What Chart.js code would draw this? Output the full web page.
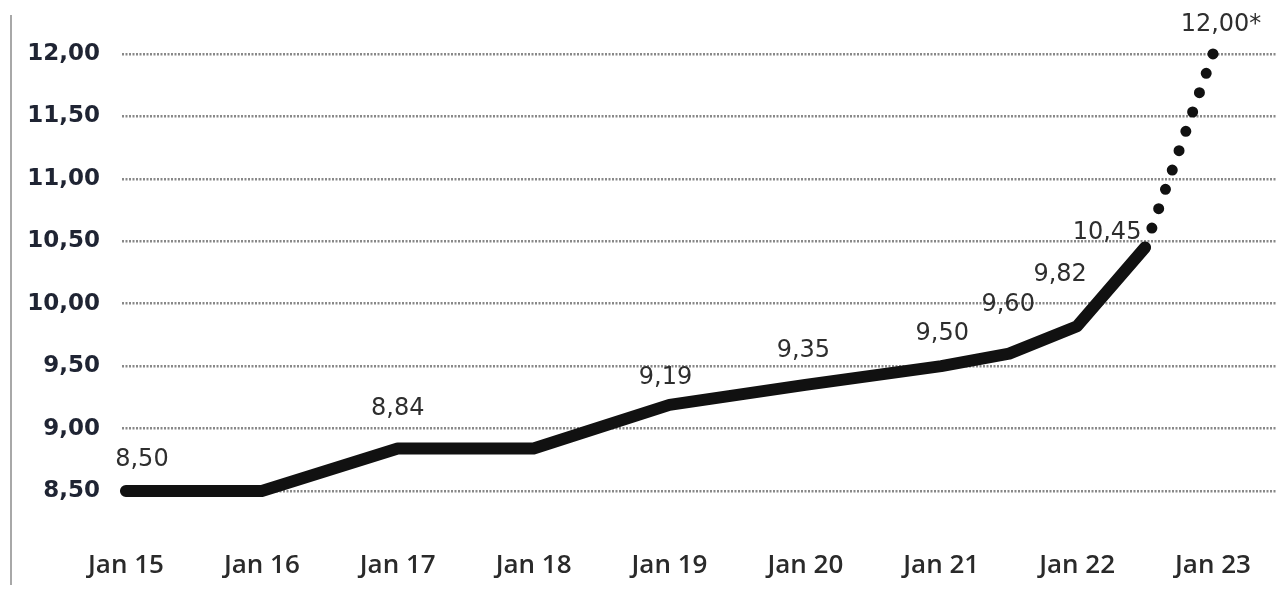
<!DOCTYPE html>
<html>
<head>
<meta charset="utf-8">
<script src="https://cdn.jsdelivr.net/npm/chart.js@4"></script>
<style>
  html, body { margin: 0; padding: 0; background: #fff; }
  #wrap { position: relative; width: 1277px; height: 590px; }
  #frame { position: absolute; left: 10px; top: 15px; width: 0; height: 570px; border-left: 2px solid #a8a8a8; }
</style>
</head>
<body>
<div id="wrap">
  <div id="frame"></div>
  <canvas id="rateChart" width="1277" height="590"></canvas>
</div>
<script>
/* ── DATA ── */
// x = years after Jan 2015 (0.5 = mid-year)
const YEARS      = [0, 1, 2, 3, 4, 5, 6, 6.5, 7, 7.5];
const RATES      = [8.50, 8.50, 8.84, 8.84, 9.19, 9.35, 9.50, 9.60, 9.82, 10.45];
const RATE_TEXT  = ['8,50', '', '8,84', '', '9,19', '9,35', '9,50', '9,60', '9,82', '10,45'];

// forecast, listed from the end so the dotted line starts on the 12,00 mark
const FC_YEARS   = [8, 7.5];
const FC_RATES   = [12.00, 10.45];
const FC_TEXT    = ['12,00*', ''];

const X_TICKS    = [0, 1, 2, 3, 4, 5, 6, 7, 8];
const X_LABELS   = ['Jan 15', 'Jan 16', 'Jan 17', 'Jan 18', 'Jan 19', 'Jan 20', 'Jan 21', 'Jan 22', 'Jan 23'];
const Y_TICKS    = [8.5, 9, 9.5, 10, 10.5, 11, 11.5, 12];

/* ── LABEL NUDGES (px, relative to the point) ── */
const NUDGE_MAIN = [[16,-31],[0,0],[0,-40],[0,0],[-4,-27],[-2,-34],[1,-32],[-1,-49],[-17,-51],[-38,-15]];
const NUDGE_FC   = [[8,-29],[0,0]];

const comma = v => v.toFixed(2).replace('.', ',');

/* ── VALUE LABELS ── */
const valueLabels = {
  id: 'valueLabels',
  afterDatasetsDraw(chart) {
    const ctx = chart.ctx;
    ctx.save();
    ctx.font = "400 24px 'DejaVu Sans', sans-serif";
    ctx.fillStyle = '#2e2e2e';
    ctx.textAlign = 'center';
    ctx.textBaseline = 'middle';
    const sets = [[0, RATE_TEXT, NUDGE_MAIN], [1, FC_TEXT, NUDGE_FC]];
    sets.forEach(([di, texts, nudge]) => {
      chart.getDatasetMeta(di).data.forEach((pt, i) => {
        if (!texts[i]) return;
        ctx.fillText(texts[i], pt.x + nudge[i][0], pt.y + nudge[i][1]);
      });
    });
    ctx.restore();
  }
};

const noPad = s => { s.paddingTop = 0; s.paddingBottom = 0; s.paddingLeft = 0; s.paddingRight = 0; };

/* ── CHART ── */
new Chart(document.getElementById('rateChart'), {
  type: 'line',
  data: {
    datasets: [
      {
        data: YEARS.map((x, i) => ({ x, y: RATES[i] })),
        borderColor: '#111',
        borderWidth: 12,
        borderJoinStyle: 'round',
        borderCapStyle: 'round',
        tension: 0,
        pointRadius: 0,
        clip: false
      },
      {
        data: FC_YEARS.map((x, i) => ({ x, y: FC_RATES[i] })),
        borderColor: '#111',
        borderWidth: 11,
        borderCapStyle: 'round',
        borderDash: [0, 20.5],
        tension: 0,
        pointRadius: 0,
        clip: false
      }
    ]
  },
  options: {
    responsive: false,
    animation: false,
    layout: { padding: { top: 15, left: 0, right: 0, bottom: 0 } },
    plugins: { legend: { display: false }, tooltip: { enabled: false } },
    scales: {
      x: {
        type: 'linear',
        min: -0.029,
        max: 8.471,
        afterBuildTicks: s => { s.ticks = X_TICKS.map(v => ({ value: v })); },
        afterFit: s => { s.height = 70; noPad(s); },
        grid: { display: false },
        border: { display: false },
        ticks: {
          autoSkip: false,
          maxRotation: 0,
          padding: 22,
          color: '#2a2a2a',
          font: { family: "'Open Sans', sans-serif", size: 26, weight: '600' },
          callback: v => X_LABELS[X_TICKS.indexOf(v)]
        }
      },
      y: {
        min: 8.268,
        max: 12.312,
        afterBuildTicks: s => { s.ticks = Y_TICKS.map(v => ({ value: v })); },
        afterFit: s => { s.width = 122; noPad(s); },
        border: { display: false, dash: [2, 1.5] },
        grid: {
          color: '#888',
          lineWidth: 2.5,
          drawTicks: false
        },
        ticks: {
          padding: 22,
          color: '#1f2433',
          font: { family: "'DejaVu Sans', sans-serif", size: 23, weight: 'bold' },
          callback: v => comma(v)
        }
      }
    }
  },
  plugins: [valueLabels]
});
</script>
</body>
</html>
